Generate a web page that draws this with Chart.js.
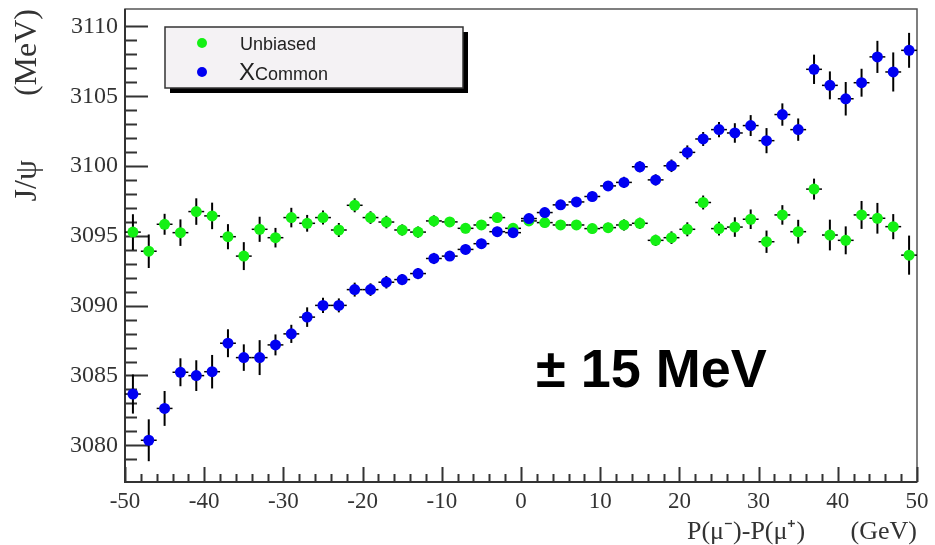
<!DOCTYPE html>
<html>
<head>
<meta charset="utf-8">
<script src="https://cdn.jsdelivr.net/npm/chart.js@4"></script>
<style>
    html, body { margin: 0; padding: 0; background: #fff; }
</style>
</head>
<body>
<canvas id="chart" width="935" height="545"></canvas>
<script>
// bin centres, P(mu-) - P(mu+) in GeV
const xBins = [-49, -47, -45, -43, -41, -39, -37, -35, -33, -31, -29, -27, -25, -23, -21, -19, -17, -15, -13, -11, -9, -7, -5, -3, -1,
    1, 3, 5, 7, 9, 11, 13, 15, 17, 19, 21, 23, 25, 27, 29, 31, 33, 35, 37, 39, 41, 43, 45, 47, 49];

// J/psi mass (MeV), "Unbiased"
const unbiased = [3095.27, 3093.9, 3095.83, 3095.23, 3096.74, 3096.43, 3094.94, 3093.55, 3095.47, 3094.87,
    3096.31, 3095.9, 3096.31, 3095.42, 3097.19, 3096.31, 3095.99, 3095.42, 3095.27, 3096.07,
    3096.0, 3095.54, 3095.78, 3096.31, 3095.54, 3096.07, 3095.95, 3095.78, 3095.78, 3095.52,
    3095.59, 3095.78, 3095.9, 3094.68, 3094.87, 3095.47, 3097.39, 3095.52, 3095.63, 3096.19,
    3094.58, 3096.5, 3095.3, 3098.35, 3095.06, 3094.68, 3096.5, 3096.26, 3095.66, 3093.62];
const unbiasedErr = [1.28, 1.2, 0.75, 0.95, 0.95, 0.95, 0.9, 1.0, 0.9, 0.7,
    0.7, 0.6, 0.5, 0.5, 0.5, 0.45, 0.45, 0.4, 0.4, 0.4,
    0.35, 0.35, 0.35, 0.35, 0.35, 0.35, 0.35, 0.35, 0.35, 0.35,
    0.35, 0.4, 0.4, 0.4, 0.45, 0.5, 0.5, 0.5, 0.7, 0.7,
    0.8, 0.7, 0.85, 0.75, 1.1, 1.0, 1.0, 1.1, 0.9, 1.4];

// J/psi mass (MeV), "XCommon"
const common = [3083.67, 3080.36, 3082.64, 3085.23, 3084.99, 3085.27, 3087.31, 3086.28, 3086.28, 3087.19,
    3087.98, 3089.18, 3090.02, 3090.02, 3091.15, 3091.15, 3091.68, 3091.87, 3092.3, 3093.38,
    3093.55, 3094.03, 3094.44, 3095.3, 3095.23, 3096.24, 3096.67, 3097.22, 3097.43, 3097.82,
    3098.58, 3098.83, 3099.95, 3099.01, 3100.02, 3100.98, 3101.94, 3102.61, 3102.37, 3102.9,
    3101.82, 3103.69, 3102.61, 3106.93, 3105.78, 3104.82, 3105.97, 3107.82, 3106.74, 3108.29];
const commonErr = [1.4, 1.5, 1.25, 1.0, 1.1, 1.2, 1.0, 0.95, 1.25, 0.75,
    0.65, 0.7, 0.55, 0.5, 0.5, 0.45, 0.45, 0.4, 0.4, 0.4,
    0.35, 0.35, 0.35, 0.35, 0.35, 0.35, 0.35, 0.35, 0.35, 0.35,
    0.35, 0.4, 0.4, 0.4, 0.45, 0.5, 0.5, 0.55, 0.7, 0.75,
    0.9, 0.8, 0.8, 1.05, 1.0, 1.2, 1.0, 1.15, 1.4, 1.25];

const binHalfWidth = 1;
const seriesLabels = ["Unbiased", "Common"];
const seriesColors = ["#14f014", "#0000f2"];
const noteText = "\u00b1 15 MeV";

const toPoints = (ys) => xBins.map((x, i) => ({ x: x, y: ys[i] }));

// error bars, drawn through the scales
const errorBars = {
    id: "errorBars",
    beforeDatasetsDraw(chart) {
        const { ctx, scales: { x, y } } = chart;
        ctx.save();
        ctx.strokeStyle = "#000";
        chart.data.datasets.forEach((ds) => {
            ds.data.forEach((p, i) => {
                const px = x.getPixelForValue(p.x);
                const py = y.getPixelForValue(p.y);
                ctx.lineWidth = 2;
                ctx.beginPath();
                ctx.moveTo(px, y.getPixelForValue(p.y - ds.errors[i]));
                ctx.lineTo(px, y.getPixelForValue(p.y + ds.errors[i]));
                ctx.stroke();
                ctx.lineWidth = 1.5;
                ctx.beginPath();
                ctx.moveTo(x.getPixelForValue(p.x - binHalfWidth), py);
                ctx.lineTo(x.getPixelForValue(p.x + binHalfWidth), py);
                ctx.stroke();
            });
        });
        ctx.restore();
    },
};

// ROOT style frame with inside ticks
const frameTicks = {
    id: "frameTicks",
    beforeDatasetsDraw(chart) {
        const { ctx, chartArea: a, scales: { x, y } } = chart;
        ctx.save();
        ctx.strokeStyle = "#555";
        ctx.lineWidth = 1.5;
        ctx.strokeRect(a.left, a.top, a.right - a.left, a.bottom - a.top);
        ctx.strokeStyle = "#333";
        ctx.lineWidth = 2;
        ctx.beginPath();
        ctx.moveTo(a.left, a.top);
        ctx.lineTo(a.left, a.bottom);
        ctx.lineTo(a.right, a.bottom);
        ctx.stroke();
        ctx.beginPath();
        y.ticks.forEach((t) => {
            if (!Number.isInteger(t.value)) return;
            const py = Math.round(y.getPixelForValue(t.value)) + 0.5;
            const len = t.value % 5 === 0 ? 23 : 12;
            ctx.moveTo(a.left, py);
            ctx.lineTo(a.left + len, py);
        });
        x.ticks.forEach((t) => {
            if (!Number.isInteger(t.value)) return;
            const px = Math.round(x.getPixelForValue(t.value)) + 0.5;
            const len = t.value % 10 === 0 ? 15 : 8;
            ctx.moveTo(px, a.bottom);
            ctx.lineTo(px, a.bottom - len);
        });
        ctx.stroke();
        ctx.restore();
    },
};

// legend box and the big note
const boxLegend = {
    id: "boxLegend",
    afterDraw(chart) {
        const ctx = chart.ctx;
        const ds = chart.data.datasets;
        ctx.save();
        ctx.fillStyle = "#000";
        ctx.fillRect(170, 32, 298, 61);
        ctx.fillStyle = "#f4f2f4";
        ctx.fillRect(165, 27, 298, 61);
        ctx.strokeStyle = "#333";
        ctx.lineWidth = 1.5;
        ctx.strokeRect(165, 27, 298, 61);

        ctx.fillStyle = ds[1].backgroundColor;
        ctx.beginPath();
        ctx.arc(202, 43, 5, 0, Math.PI * 2);
        ctx.fill();
        ctx.fillStyle = ds[0].backgroundColor;
        ctx.beginPath();
        ctx.arc(202, 72, 5, 0, Math.PI * 2);
        ctx.fill();

        ctx.fillStyle = "#222";
        ctx.textBaseline = "alphabetic";
        ctx.textAlign = "left";
        ctx.font = "18px 'Liberation Sans', Arial, sans-serif";
        ctx.fillText(ds[1].label, 240, 50);
        ctx.font = "24px 'Liberation Sans', Arial, sans-serif";
        ctx.fillText("X", 239, 80);
        const w = ctx.measureText("X").width;
        ctx.font = "18px 'Liberation Sans', Arial, sans-serif";
        ctx.fillText(ds[0].label, 239 + w, 80);

        ctx.fillStyle = "#000";
        ctx.font = "bold 54px 'Liberation Sans', Arial, sans-serif";
        ctx.fillText(noteText, 536, 387);
        ctx.restore();
    },
};

const serif = "'Liberation Serif', 'Times New Roman', serif";

new Chart(document.getElementById("chart"), {
    type: "scatter",
    data: {
        datasets: [
            {
                label: seriesLabels[1],
                data: toPoints(common),
                errors: commonErr,
                backgroundColor: seriesColors[1],
                borderColor: seriesColors[1],
                pointRadius: 5.5,
                pointBorderWidth: 0,
                order: 0,
            },
            {
                label: seriesLabels[0],
                data: toPoints(unbiased),
                errors: unbiasedErr,
                backgroundColor: seriesColors[0],
                borderColor: seriesColors[0],
                pointRadius: 5.5,
                pointBorderWidth: 0,
                order: 1,
            },
        ],
    },
    options: {
        responsive: false,
        animation: false,
        devicePixelRatio: 1,
        layout: { padding: { top: 9, right: 18, left: 0, bottom: 0 } },
        plugins: {
            legend: { display: false },
            tooltip: { enabled: false },
        },
        scales: {
            x: {
                type: "linear",
                min: -50,
                max: 50,
                grid: { display: false, drawTicks: false },
                border: { display: false },
                ticks: {
                    stepSize: 2,
                    autoSkip: false,
                    maxRotation: 0,
                    padding: 6,
                    color: "#333",
                    font: { family: serif, size: 23 },
                    callback: (v) => (Number.isInteger(v) && v % 10 === 0 ? String(v) : ""),
                },
                title: {
                    display: true,
                    text: "P(\u03bc\u207b)-P(\u03bc\u207a)       (GeV)",
                    align: "end",
                    color: "#333",
                    font: { family: serif, size: 26 },
                    padding: { top: 0, bottom: -3 },
                },
                afterFit: (scale) => {
                    scale.height = 63;
                    scale.paddingLeft = 0;
                    scale.paddingRight = 0;
                },
            },
            y: {
                type: "linear",
                min: 3077.37,
                max: 3111.25,
                grid: { display: false, drawTicks: false },
                border: { display: false },
                ticks: {
                    stepSize: 1,
                    autoSkip: false,
                    padding: 7,
                    color: "#333",
                    font: { family: serif, size: 24 },
                    callback: (v) => (Number.isInteger(v) && v % 5 === 0 ? String(v) : ""),
                },
                title: {
                    display: true,
                    text: "J/\u03c8        (MeV)",
                    align: "end",
                    color: "#333",
                    font: { family: serif, size: 32 },
                    padding: { top: 8, bottom: 0 },
                },
                afterFit: (scale) => {
                    scale.width = 125;
                    scale.paddingTop = 0;
                    scale.paddingBottom = 0;
                },
            },
        },
    },
    plugins: [frameTicks, errorBars, boxLegend],
});
</script>
</body>
</html>
